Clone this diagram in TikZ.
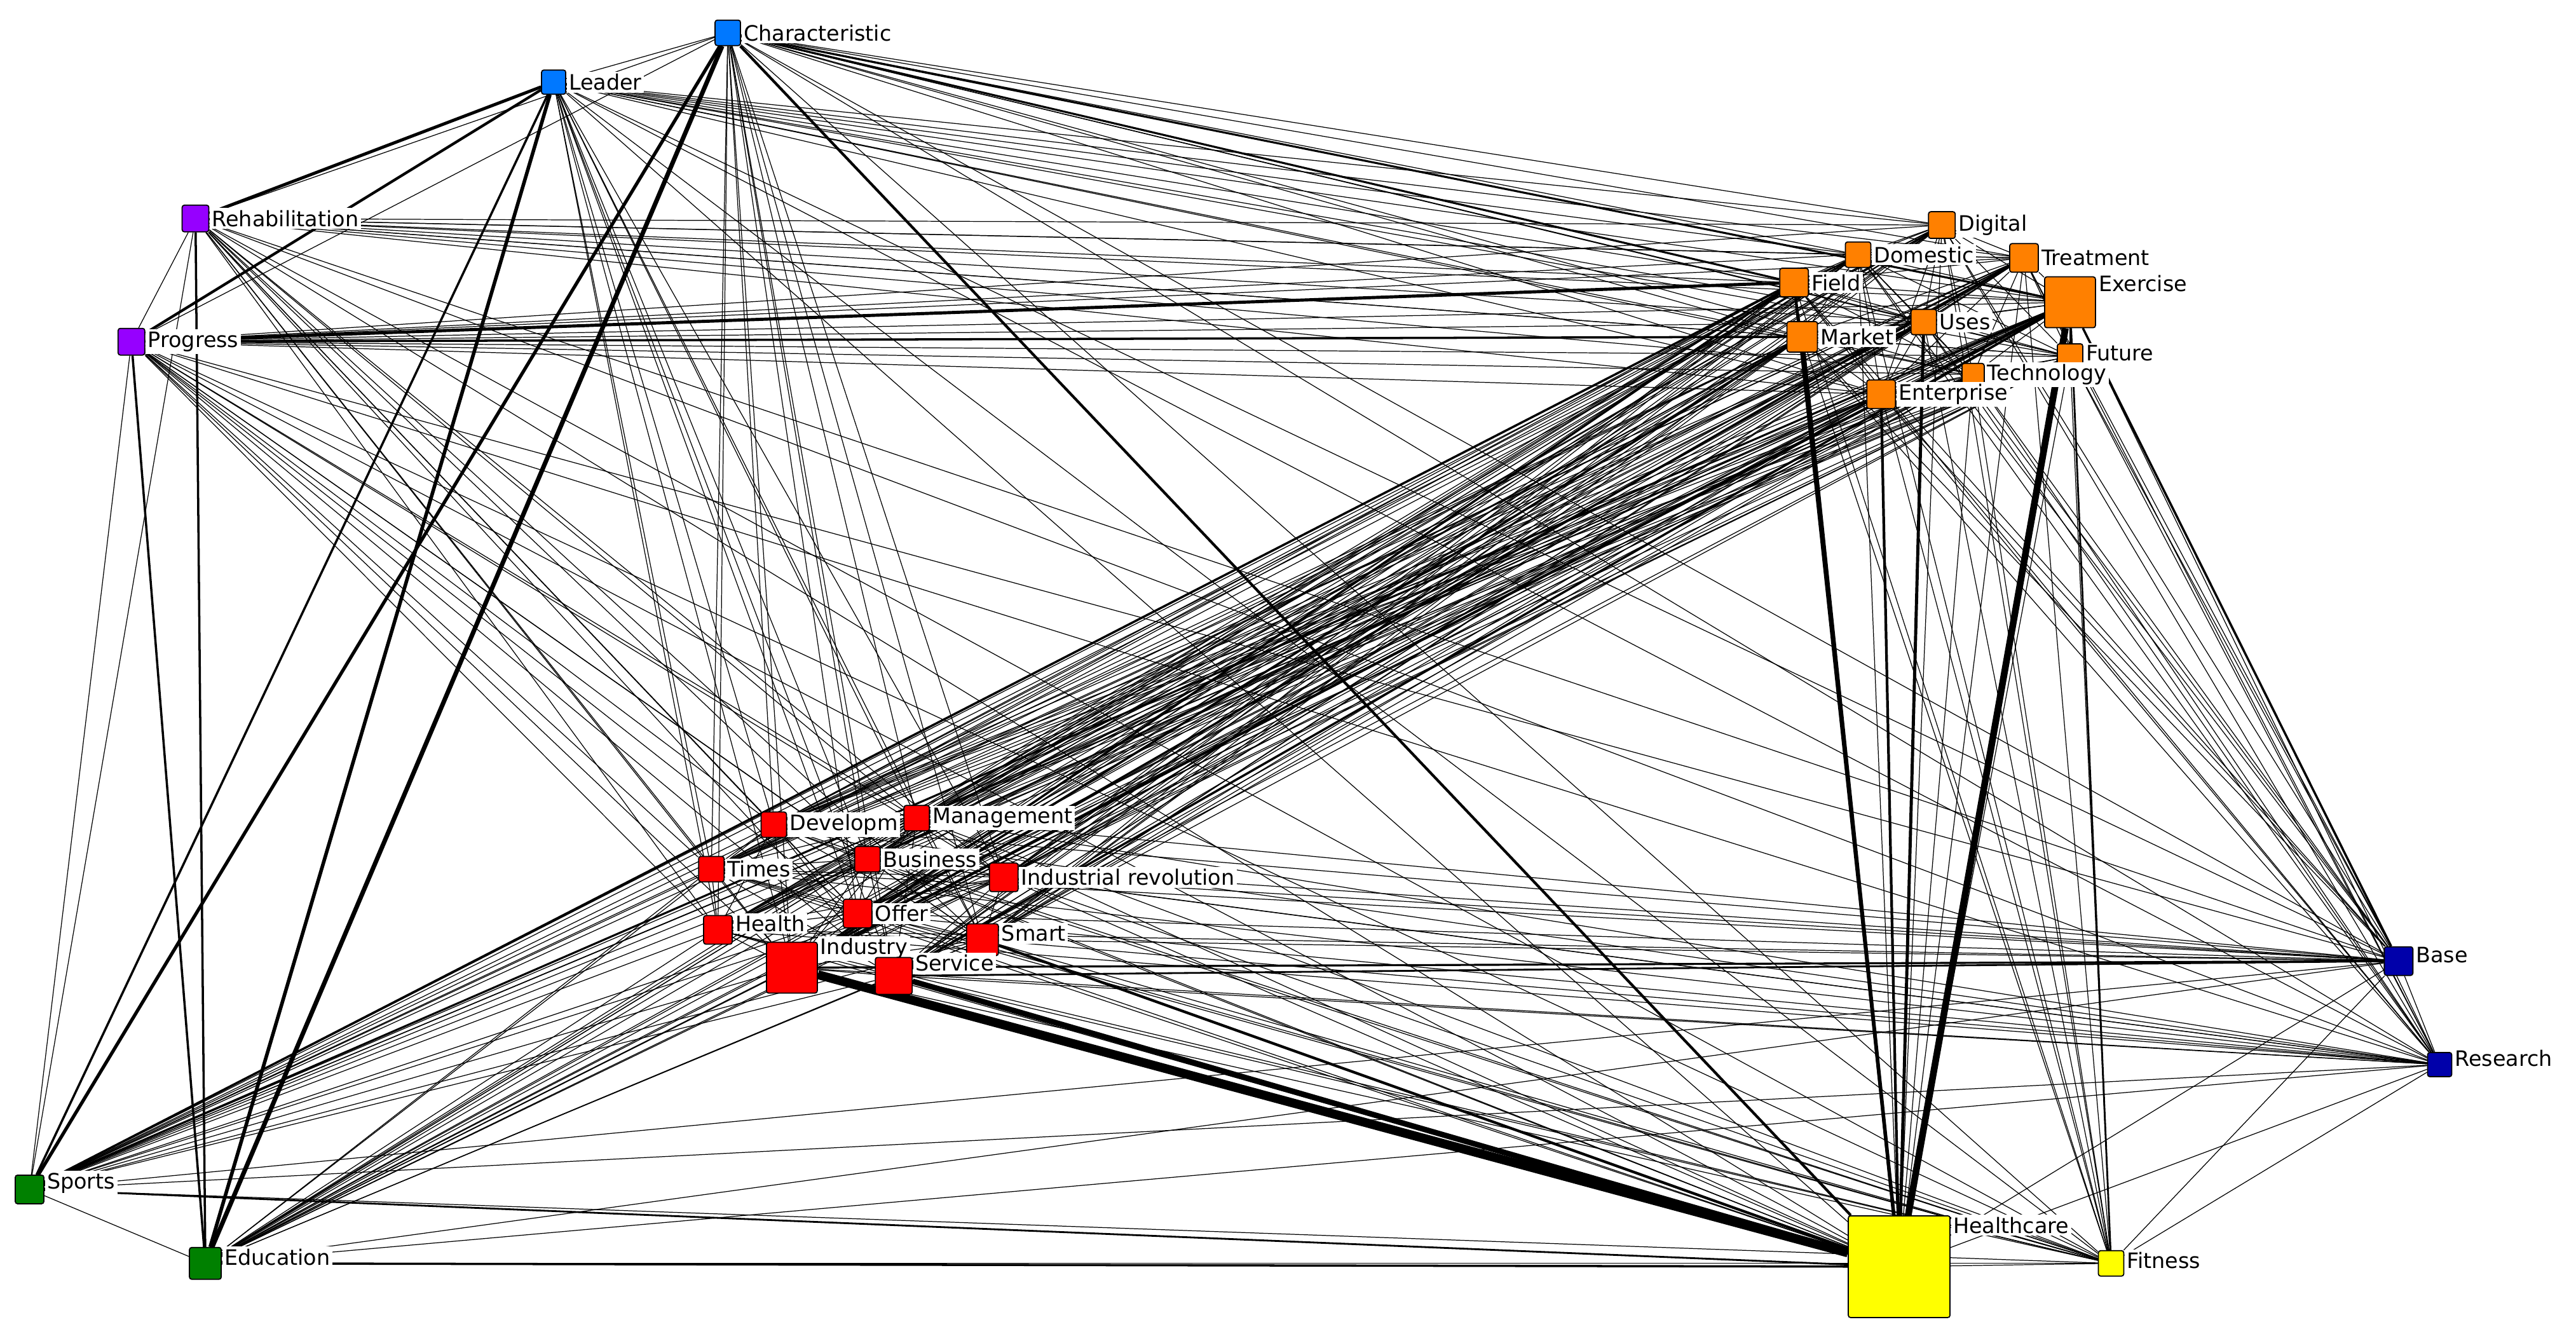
\documentclass[tikz,border=0pt]{standalone}
\usepackage{fontspec}
\setmainfont{DejaVu Sans}
\usetikzlibrary{backgrounds}
\definecolor{cblue}{RGB}{0,120,255}
\definecolor{cpurple}{RGB}{150,0,255}
\definecolor{corange}{RGB}{255,128,0}
\definecolor{cred}{RGB}{255,0,0}
\definecolor{cdblue}{RGB}{0,0,170}
\definecolor{cgreen}{RGB}{0,128,0}
\definecolor{cyellow}{RGB}{255,255,0}
\begin{document}
\begin{tikzpicture}[x=0.02585cm,y=-0.02585cm,
  nd/.style 2 args={draw=black,line width=0.5pt,fill=#1,minimum size=#2cm,inner sep=0pt,rounded corners=1pt},
  lb/.style={fill=white,inner sep=1pt,font=\fontsize{9.5}{11}\selectfont},
  e/.style={line width=0.35pt}]
\useasboundingbox (0,0) rectangle (1568,813);
\node[nd={cblue}{0.4}, label={[lb]right:Characteristic}] (ch) at (443,20) {};
\node[nd={cblue}{0.38}, label={[lb]right:Leader}] (le) at (337,50) {};
\node[nd={cpurple}{0.42}, label={[lb]right:Rehabilitation}] (re) at (119,133) {};
\node[nd={cpurple}{0.42}, label={[lb]right:Progress}] (pr) at (80,208) {};
\node[nd={corange}{0.42}, label={[lb]right:Digital}] (di) at (1182,137) {};
\node[nd={corange}{0.4}, label={[lb]right:Domestic}] (do) at (1131,155) {};
\node[nd={corange}{0.45}, label={[lb]right:Treatment}] (tr) at (1232,157) {};
\node[nd={corange}{0.45}, label={[lb]right:Field}] (fi) at (1092,172) {};
\node[nd={corange}{0.8}, label={[lb,anchor=west,yshift=0.3cm]east:Exercise}] (ex) at (1260,184) {};
\node[nd={corange}{0.4}, label={[lb]right:Uses}] (us) at (1171,196) {};
\node[nd={corange}{0.48}, label={[lb]right:Market}] (ma) at (1097,205) {};
\node[nd={corange}{0.4}, label={[lb,anchor=west,yshift=0.05cm]east:Future}] (fu) at (1260,217) {};
\node[nd={corange}{0.35}, label={[lb]right:Technology}] (te) at (1201,228) {};
\node[nd={corange}{0.45}, label={[lb]right:Enterprise}] (en) at (1145,240) {};
\node[nd={cred}{0.4}, label={[lb]right:Developm}] (dv) at (471,502) {};
\node[nd={cred}{0.4}, label={[lb]right:Management}] (mg) at (558,498) {};
\node[nd={cred}{0.4}, label={[lb]right:Times}] (ti) at (433,529) {};
\node[nd={cred}{0.4}, label={[lb]right:Business}] (bu) at (528,523) {};
\node[nd={cred}{0.45}, label={[lb]right:Industrial revolution}] (ir) at (611,534) {};
\node[nd={cred}{0.45}, label={[lb]right:Offer}] (of) at (522,556) {};
\node[nd={cred}{0.45}, label={[lb,anchor=west,yshift=0.1cm]east:Health}] (he) at (437,566) {};
\node[nd={cred}{0.5}, label={[lb,anchor=west,yshift=0.1cm]east:Smart}] (sm) at (598,572) {};
\node[nd={cred}{0.8}, label={[lb,anchor=west,yshift=0.3cm]east:Industry}] (in) at (482,589) {};
\node[nd={cred}{0.58}, label={[lb,anchor=west,yshift=0.2cm]east:Service}] (se) at (544,594) {};
\node[nd={cdblue}{0.45}, label={[lb,anchor=west,yshift=0.1cm]east:Base}] (ba) at (1460,585) {};
\node[nd={cdblue}{0.38}, label={[lb,anchor=west,yshift=0.1cm]east:Research}] (rs) at (1485,648) {};
\node[nd={cgreen}{0.45}, label={[lb,anchor=west,yshift=0.1cm]east:Sports}] (sp) at (18,724) {};
\node[nd={cgreen}{0.5}, label={[lb,anchor=west,yshift=0.1cm]east:Education}] (ed) at (125,769) {};
\node[nd={cyellow}{1.6}, label={[lb,anchor=west,yshift=0.65cm]east:Healthcare}] (hc) at (1156,771) {};
\node[nd={cyellow}{0.4}, label={[lb,anchor=west,yshift=0.05cm]east:Fitness}] (ft) at (1285,769) {};
\begin{scope}[on background layer]
\fill[white] (0,0) rectangle (1568,813);
\foreach \a [count=\i] in {ch,le,re,pr,di,do,tr,fi,ex,us,ma,fu,te,en,dv,mg,ti,bu,ir,of,he,sm,in,se,ba,rs,sp,ed,hc,ft}{
  \foreach \b [count=\j] in {ch,le,re,pr,di,do,tr,fi,ex,us,ma,fu,te,en,dv,mg,ti,bu,ir,of,he,sm,in,se,ba,rs,sp,ed,hc,ft}{
    \ifnum\j>\i \draw[e] (\a) -- (\b); \fi }}
\foreach \a/\b/\w in {hc/in/4,hc/se/2.5,hc/ex/3,hc/ma/1.6,hc/us/1.4,hc/fi/1.2,hc/en/1.2,hc/sm/1.2,hc/ch/1.2,
  ch/ed/2,le/ed/1.6,ch/sp/1.5,le/sp/1,re/le/1.4,pr/le/1.2,pr/fi/1.4,pr/ma/1,re/ed/1,pr/ed/1,
  in/ex/1.2,in/tr/1,in/fi/1,se/ex/1,in/ma/1,sp/fi/1,sp/ex/0.9,ed/hc/1,sp/hc/0.8,ex/ft/0.8,ex/ba/1,
  in/ba/0.9,se/ba/0.8,ch/fi/0.9,ch/ex/0.9}{
  \draw[line width=\w pt] (\a) -- (\b);}
\end{scope}
\end{tikzpicture}
\end{document}
